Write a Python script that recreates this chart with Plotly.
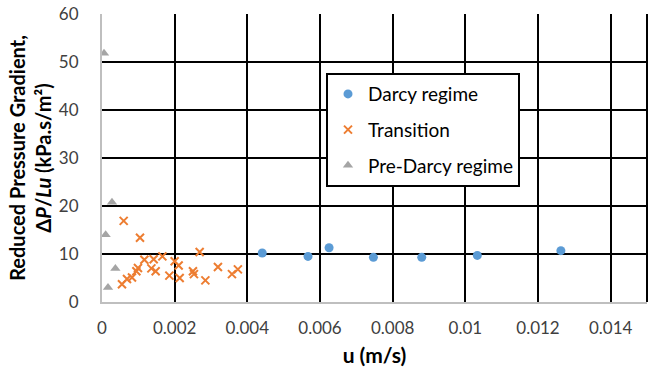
import plotly.graph_objects as go

darcy_u = [0.00441, 0.00567, 0.00625, 0.00747, 0.00880, 0.01033, 0.01263]
darcy_p = [10.2, 9.5, 11.3, 9.3, 9.3, 9.7, 10.7]

trans_u = [0.000597, 0.001046, 0.000550, 0.000688, 0.000825, 0.000946, 0.000990,
           0.001166, 0.001422, 0.001359, 0.001477, 0.001662, 0.001854, 0.002000,
           0.002110, 0.002138, 0.002503, 0.002531, 0.002688, 0.002845, 0.003191,
           0.003577, 0.003740]
trans_p = [16.9, 13.4, 3.7, 4.8, 5.1, 6.4, 7.1,
           8.8, 8.9, 7.0, 6.4, 9.5, 5.5, 8.5,
           7.6, 5.0, 6.4, 5.8, 10.4, 4.5, 7.3,
           5.8, 6.8]

pre_u = [0.000055, 0.000275, 0.000100, 0.000368, 0.000165]
pre_p = [51.8, 20.8, 14.0, 7.0, 3.0]

x_ticks = [0, 0.002, 0.004, 0.006, 0.008, 0.01, 0.012, 0.014]
x_tick_text = ["0", "0.002", "0.004", "0.006", "0.008", "0.01", "0.012", "0.014"]
y_ticks = [0, 10, 20, 30, 40, 50, 60]

FONT = "Lato, 'Open Sans', sans-serif"

fig = go.Figure()
fig.add_trace(go.Scatter(x=darcy_u, y=darcy_p, mode="markers", name="Darcy regime",
                         legendgroup="a",
                         marker=dict(symbol="circle", size=9, color="#5B9BD5")))
fig.add_trace(go.Scatter(x=trans_u, y=trans_p, mode="markers", name="Transition",
                         legendgroup="b",
                         marker=dict(symbol="x-thin", size=8, color="#ED7D31",
                                     line=dict(width=2, color="#ED7D31"))))
fig.add_trace(go.Scatter(x=pre_u, y=pre_p, mode="markers", name="Pre-Darcy regime",
                         legendgroup="c",
                         marker=dict(symbol="triangle-up", size=9, color="#A5A5A5")))

fig.update_layout(
    width=654, height=368,
    margin=dict(l=102, r=7, t=14, b=66, autoexpand=False),
    paper_bgcolor="white", plot_bgcolor="white",
    font=dict(family=FONT, size=17, color="#404040"),
    showlegend=True,
    legend=dict(x=0.411, y=0.795, xanchor="left", yanchor="top",
                bordercolor="black", borderwidth=2, bgcolor="white",
                font=dict(family=FONT, size=19, color="black"),
                tracegroupgap=8, itemwidth=30),
    xaxis=dict(range=[0, 0.015], tickvals=x_ticks, ticktext=x_tick_text,
               showgrid=True, gridcolor="black", gridwidth=2,
               showline=True, linecolor="#BFBFBF", linewidth=2,
               zeroline=False, ticks="", ticklabelstandoff=10, automargin=False,
               tickfont=dict(size=17, color="#404040"),
               title=dict(text="<b>u (m/s)</b>", font=dict(size=21, color="black"), standoff=11)),
    yaxis=dict(range=[0, 60], tickvals=y_ticks,
               showgrid=True, gridcolor="black", gridwidth=2,
               showline=True, linecolor="#BFBFBF", linewidth=2,
               zeroline=False, ticks="", ticklabelstandoff=18, automargin=False,
               tickfont=dict(size=17, color="#404040"),
               title=dict(text="<b>Reduced Pressure Gradient,</b><br><b>Δ<i>P</i>/<i>Lu</i> (kPa.s/m²)</b>",
                          font=dict(size=20, color="black"), standoff=2)),
)
fig.add_shape(type="line", xref="paper", yref="paper", x0=1, x1=1, y0=0, y1=1,
              line=dict(color="black", width=2))
fig.write_html("out.html", config={"displayModeBar": False},
               post_script="document.body.style.margin='0';")
